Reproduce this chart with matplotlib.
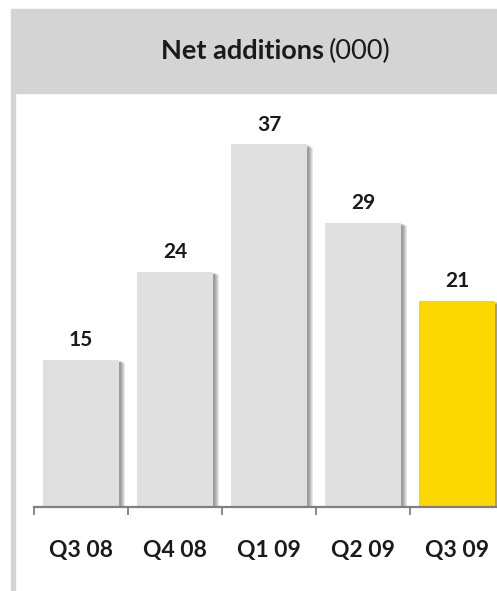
import matplotlib.pyplot as plt
import matplotlib.patheffects as pe
from matplotlib.patches import Rectangle

plt.rcParams['font.family'] = ['Lato', 'DejaVu Sans']

quarters = ['Q3 08', 'Q4 08', 'Q1 09', 'Q2 09', 'Q3 09']
net_adds = [15, 24, 37, 29, 21]
bar_colors = ['#e0e0e0', '#e0e0e0', '#e0e0e0', '#e0e0e0', '#fcd700']

W, H = 497, 591
fig = plt.figure(figsize=(W / 100, H / 100), dpi=100)


def fx(px):
    return px / W


def fy(py):
    return 1 - py / H


# grey header band and the thin frame running down the left side
fig.patches.append(Rectangle((fx(11), fy(93)), 1 - fx(11), fy(9) - fy(93),
                             transform=fig.transFigure, color='#d4d4d4', zorder=0))
fig.patches.append(Rectangle((fx(11), 0), fx(15) - fx(11), fy(93),
                             transform=fig.transFigure, color='#d4d4d4', zorder=0))

fig.text(fx(324), fy(51), 'Net additions', ha='right', va='center',
         fontsize=19.5, fontweight='bold', color='#1a1a1a')
fig.text(fx(329), fy(51), '(000)', ha='left', va='center',
         fontsize=19.5, color='#1a1a1a')

ax = fig.add_axes([fx(34), fy(507), (504 - 34) / W, 392 / H])
ax.set_facecolor('none')
ax.set_xlim(-0.5, 4.5)
ax.set_ylim(0, 40)

bars = ax.bar(range(len(quarters)), net_adds, width=0.81, color=bar_colors, zorder=2)

# soft drop shadow on the right/bottom of each bar
shadow = [pe.SimplePatchShadow(offset=(k, -0.5 * k), shadow_rgbFace='black', alpha=0.09)
          for k in (4.5, 3.5, 2.6, 1.8, 1.1)]
for b in bars:
    b.set_path_effects(shadow + [pe.Normal()])

for i, v in enumerate(net_adds):
    ax.annotate(str(v), (i, v), xytext=(0, 10), textcoords='offset points',
                ha='center', va='baseline', fontsize=15, fontweight='bold',
                color='#1a1a1a')
    ax.annotate(quarters[i], (i, 0), xytext=(0, -36), textcoords='offset points',
                ha='center', va='baseline', fontsize=16.5, fontweight='bold',
                color='#1a1a1a', annotation_clip=False)

for side in ('top', 'right', 'left'):
    ax.spines[side].set_visible(False)
ax.spines['bottom'].set_color('#7f7f7f')
ax.spines['bottom'].set_linewidth(1.6)
ax.set_yticks([])
ax.set_xticks([])
ax.set_xticks([x - 0.5 for x in range(len(quarters) + 1)], minor=True)
ax.tick_params(axis='x', which='minor', length=6, width=1.3, color='#7f7f7f',
               direction='out')

fig.savefig('out.png', dpi=100)
